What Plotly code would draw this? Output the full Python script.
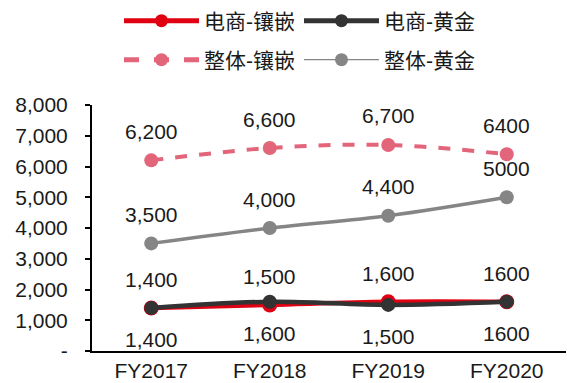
import plotly.graph_objects as go

years = ["FY2017", "FY2018", "FY2019", "FY2020"]
ecom_inlay = [1400, 1500, 1600, 1600]
ecom_gold = [1400, 1600, 1500, 1600]
total_inlay = [6200, 6600, 6700, 6400]
total_gold = [3500, 4000, 4400, 5000]

ecom_inlay_labels = ["1,400", "1,500", "1,600", "1600"]
ecom_gold_labels = ["1,400", "1,600", "1,500", "1600"]
total_inlay_labels = ["6,200", "6,600", "6,700", "6400"]
total_gold_labels = ["3,500", "4,000", "4,400", "5000"]

y_ticks = [0, 1000, 2000, 3000, 4000, 5000, 6000, 7000, 8000]
y_tick_text = ["-", "1,000", "2,000", "3,000", "4,000", "5,000", "6,000", "7,000", "8,000"]

FONT = "Liberation Sans, Arial, Noto Sans CJK SC, sans-serif"
RED = "#E00012"
DARK = "#333333"
PINK = "#E3657A"
GREY = "#858585"
TXT = "#1a1a1a"

fig = go.Figure()

# plotted series
fig.add_trace(go.Scatter(
    x=years, y=total_inlay, showlegend=False,
    mode="lines+markers", line=dict(color=PINK, width=4, dash="dash", shape="spline"),
    marker=dict(size=14, color=PINK)))
fig.add_trace(go.Scatter(
    x=years, y=total_gold, showlegend=False,
    mode="lines+markers", line=dict(color=GREY, width=3.5, shape="spline"),
    marker=dict(size=14, color=GREY)))
fig.add_trace(go.Scatter(
    x=years, y=ecom_inlay, showlegend=False,
    mode="lines+markers", line=dict(color=RED, width=4.5, shape="spline"),
    marker=dict(size=15, color=RED)))
fig.add_trace(go.Scatter(
    x=years, y=ecom_gold, showlegend=False,
    mode="lines+markers", line=dict(color=DARK, width=4.5, shape="spline"),
    marker=dict(size=14, color=DARK)))

# legend entries (two rows)
legend_items = [
    ("电商-镶嵌", RED, 5, "solid", "legend"),
    ("电商-黄金", DARK, 5, "solid", "legend"),
    ("整体-镶嵌", PINK, 5, "dash", "legend2"),
    ("整体-黄金", GREY, 1.2, "solid", "legend2"),
]
for name, color, width, dash, leg in legend_items:
    fig.add_trace(go.Scatter(
        x=[None], y=[None], name=name, legend=leg, mode="lines+markers",
        line=dict(color=color, width=width, dash=dash),
        marker=dict(size=13, color=color)))

# value labels
label_sets = [
    (total_inlay, total_inlay_labels, 29),
    (total_gold, total_gold_labels, 29),
    (ecom_inlay, ecom_inlay_labels, 28),
    (ecom_gold, ecom_gold_labels, -32),
]
for vals, texts, shift in label_sets:
    for x, v, t in zip(years, vals, texts):
        fig.add_annotation(x=x, y=v, text=t, showarrow=False, yshift=shift,
                           font=dict(size=21, color=TXT, family=FONT))

legend_common = dict(orientation="h", xanchor="left", yanchor="middle",
                     font=dict(size=21, color=TXT, family=FONT),
                     itemwidth=75, entrywidth=90, entrywidthmode="pixels",
                     bgcolor="rgba(0,0,0,0)", traceorder="normal",
                     xref="container", yref="container")
fig.update_layout(
    width=567, height=383,
    margin=dict(l=92, r=1, t=105, b=28),
    paper_bgcolor="white", plot_bgcolor="white",
    font=dict(family=FONT, size=21, color=TXT),
    legend=dict(x=119 / 567, y=1 - 21 / 383, **legend_common),
    legend2=dict(x=119 / 567, y=1 - 60 / 383, **legend_common),
    xaxis=dict(type="category", range=[-0.5, 3.5], showline=True, linecolor="black",
               linewidth=2, ticks="", tickfont=dict(size=21), showgrid=False),
    yaxis=dict(range=[0, 8000], tickvals=y_ticks, ticktext=y_tick_text, showline=True,
               linecolor="black", linewidth=2, ticks="outside", ticklen=5, tickwidth=2,
               tickcolor="black", tickfont=dict(size=21), showgrid=False, zeroline=False,
               ticklabelstandoff=13),
)

fig.write_html("out.html")
